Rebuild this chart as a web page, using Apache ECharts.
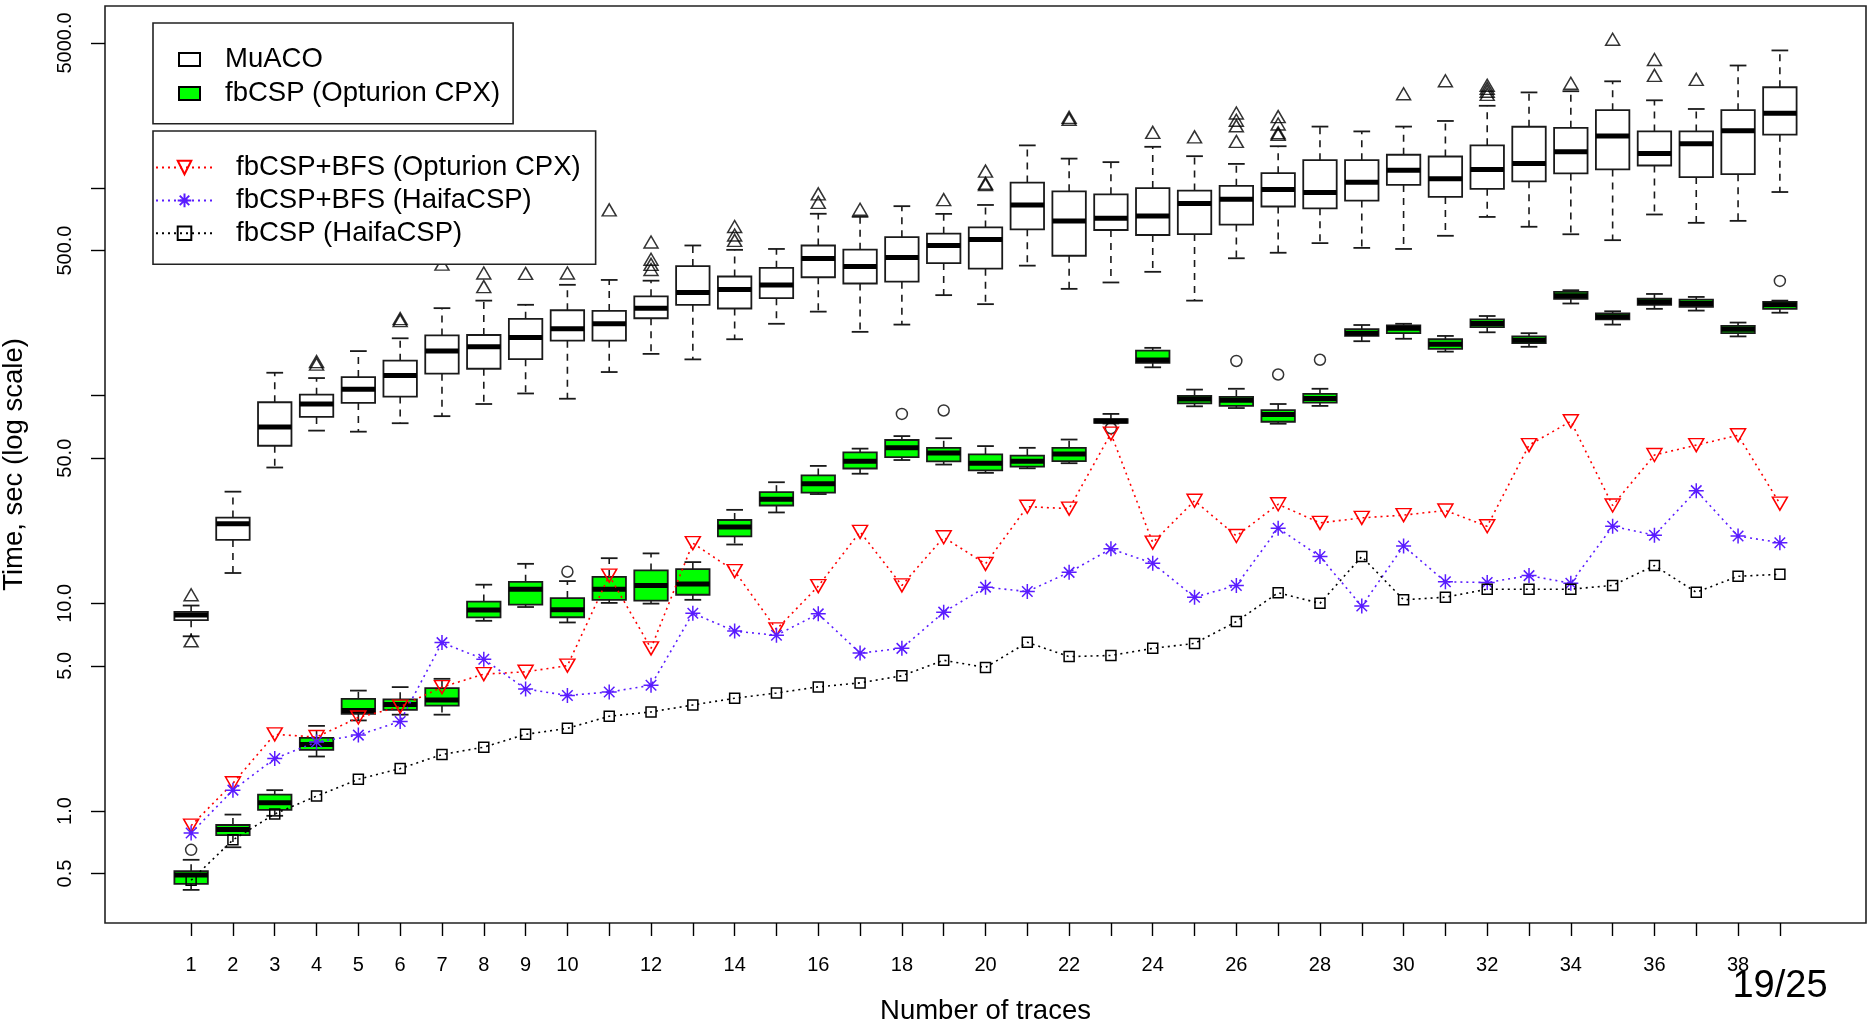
<!DOCTYPE html>
<html><head><meta charset="utf-8">
<script src="https://cdn.jsdelivr.net/npm/echarts@6/dist/echarts.min.js"></script>
<style>html,body{margin:0;padding:0;background:#fff}#chart{width:1872px;height:1027px}</style>
</head><body><div id="chart"></div>
<script>
// ---------- data (seconds) ----------
const traces = [1,2,3,4,5,6,7,8,9,10,11,12,13,14,15,16,17,18,19,20,21,22,23,24,25,26,27,28,29,30,31,32,33,34,35,36,37,38,39];
const xTickLabels = [1,2,3,4,5,6,7,8,9,10,12,14,16,18,20,22,24,26,28,30,32,34,36,38];
const yTicks = [0.5,1,5,10,50,100,500,1000,5000];
const yTickLabels = [0.5,1,5,10,50,500,5000];

const muacoLow  = [6.94,14.0,45.1,67.9,67.1,73.7,79.7,91.2,102.5,96.7, 130,159,149.6,187,222,254,203,220,305,276, 423,327,351,395,287,459,488,543,515,509, 589,726,651,599,561,746,680,695,957];
const muacoQ1   = [8.3,20.2,57.4,79.0,92.3,99.0,127.6,134.8,150,184, 184,236,274,263,295,372,347,354,435,409, 633,472,628,594,600,667,815,799,870,1035, 906,992,1078,1176,1229,1284,1130,1166,1807];
const muacoMed  = [8.8,24.2,70.7,91.2,107.5,125.1,164,172,190.8,210, 222,264,314,325,341,458,419,463,529,565, 829,693,716,733,843,884,984,953,1065,1219, 1109,1229,1312,1497,1783,1466,1633,1889,2291];
const muacoQ3   = [9.1,25.9,93,101.1,123,147.4,195,196,234.6,258, 256,301,421,375,413,529,505,580,603,646, 1063,964,933,1000,972,1025,1179,1362,1362,1447, 1419,1606,1973,1949,2372,1873,1873,2372,3058];
const muacoHigh = [9.76,34.5,129,121.6,164,189,264,287,274,342, 361,358,529,504,509,752,727,818,751,829, 1605,1386,1333,1580,1424,1307,1590,1977,1874,1977, 2104,2490,2888,2926,3266,2646,2403,3892,4600];
const muacoOutliers = [[1,11.0],[1,6.6],[4,142],[4,146],[6,230],[6,235],[7,430],[8,335],[8,390],[9,388],[10,390],[11,785],
  [12,405],[12,429],[12,454],[12,550],[14,560],[14,594],[14,653],[16,853],[16,938],[17,790],[19,880],[20,1039],[20,1055],[20,1207],
  [22,2143],[22,2190],[24,1855],[25,1763],[26,1677],[26,1994],[26,2120],[26,2300],[27,1813],[27,1845],[27,2034],[27,2208],
  [30,2846],[31,3288],[32,2827],[32,2926],[32,3020],[32,3127],[34,3195],[35,5206],[36,3488],[36,4161],[37,3339]];

const cpxLow  = [0.417,0.669,0.948,1.83,2.73,2.91,2.91,8.24,9.6,8.09, 10.05,9.97,10.4,19.2,27.4,33.6,42.1,49.0,46.6,42.5, 44.7,47.3,73.5,137,88.9,87.2,73.3,89.3,183,188, 163,202,172,278,220,262,257,193,251];
const cpxQ1   = [0.446,0.766,1.013,1.97,2.94,3.07,3.22,8.55,9.86,8.57, 10.4,10.3,11.0,21.0,29.6,34.1,44.6,50.6,48.3,43.7, 45.5,48.4,74.0,144,91.9,89.3,74.9,92.6,194,200, 168,214,179,293,233,274,268,200,262];
const cpxMed  = [0.492,0.815,1.095,2.09,3.05,3.26,3.42,9.28,11.7,9.31, 11.7,12.2,12.4,23.3,31.7,37.7,48.3,56.1,52.9,47.3, 48.4,52.4,75.5,148.5,96.5,95.1,81.2,96.9,200,211, 177,223,185,303,240,283,278,209,274];
const cpxQ3   = [0.513,0.856,1.20,2.25,3.47,3.45,3.91,10.2,12.7,10.6, 13.4,14.4,14.6,25.2,34.3,41.3,53.3,61.2,56.1,52.2, 51.4,56.1,77.0,165,99.8,98.6,85.3,102,209,218, 187,233,193,316,249,293,290,217,283];
const cpxHigh = [0.582,0.961,1.26,2.57,3.80,3.95,4.33,12.3,15.5,12.8, 16.5,17.4,15.8,28.2,38.3,45.9,55.6,63.9,62.4,57.2, 56.1,61.5,81.7,170,107,108,91.2,108,219,222, 194,242,200,322,255,309,299,225,287];
const cpxOutliers = [[1,0.65],[10,14.2],[18,81.7],[19,84.9],[23,69.7],[26,147],[27,126.5],[28,149],[39,357]];

const bfsCpx   = [0.85,1.36,2.34,2.27,2.82,3.18,3.95,4.56,4.68,5.01, 13.6,6.07,19.5,14.3,7.49,12.1,22.1,12.2,20.8,15.5, 29.2,28.6,65.7,19.6,31.2,21.1,30.0,24.4,25.8,26.6, 28.0,23.5,57.8,75.3,29.6,51.8,57.8,64.5,30.2];
const bfsHaifa = [0.783,1.26,1.79,2.15,2.32,2.70,6.47,5.38,3.87,3.60, 3.74,4.03,8.96,7.35,7.02,8.90,5.76,6.07,9.07,11.97, 11.4,14.1,18.3,15.6,10.7,12.2,23.0,16.8,9.7,18.9, 12.7,12.6,13.6,12.5,23.5,21.3,34.9,21.1,19.6];
const haifa    = [0.464,0.726,0.968,1.18,1.42,1.60,1.87,2.03,2.34,2.50, 2.86,3.00,3.24,3.49,3.70,3.96,4.14,4.48,5.32,4.91, 6.49,5.54,5.61,6.07,6.41,8.17,11.25,10.0,16.8,10.4, 10.7,11.7,11.7,11.7,12.2,15.2,11.3,13.5,13.8];

const names = ['MuACO','fbCSP (Opturion CPX)','fbCSP+BFS (Opturion CPX)','fbCSP+BFS (HaifaCSP)','fbCSP (HaifaCSP)'];

// ---------- build ----------
const lg = Math.log10;
const FONT = '"Liberation Sans", Arial, Helvetica, sans-serif';
const boxRows = (lo,q1,md,q3,hi) => traces.map((t,i)=>[t, lg(lo[i]), lg(q1[i]), lg(md[i]), lg(q3[i]), lg(hi[i])]);
const pts = (arr) => traces.map((t,i)=>[t, lg(arr[i])]);
const outPts = (arr) => arr.map(p=>[p[0], lg(p[1])]);

const BOXWEX = 0.8;
function renderBox(params, api) {
  const x = api.value(0);
  const pLo = api.coord([x, api.value(1)]);
  const pQ1 = api.coord([x, api.value(2)]);
  const pMd = api.coord([x, api.value(3)]);
  const pQ3 = api.coord([x, api.value(4)]);
  const pHi = api.coord([x, api.value(5)]);
  const w = api.size([BOXWEX, 0])[0];
  const cx = pMd[0], hw = w/2, sw = w/4;
  const fill = api.visual('color');
  const stroke = '#1a1a1a';
  return {type:'group', children:[
    {type:'line', shape:{x1:cx,y1:pQ3[1],x2:cx,y2:pHi[1]}, style:{stroke, lineWidth:1.6, lineDash:[7,6]}},
    {type:'line', shape:{x1:cx,y1:pQ1[1],x2:cx,y2:pLo[1]}, style:{stroke, lineWidth:1.6, lineDash:[7,6]}},
    {type:'line', shape:{x1:cx-sw,y1:pHi[1],x2:cx+sw,y2:pHi[1]}, style:{stroke, lineWidth:1.8}},
    {type:'line', shape:{x1:cx-sw,y1:pLo[1],x2:cx+sw,y2:pLo[1]}, style:{stroke, lineWidth:1.8}},
    {type:'rect', shape:{x:cx-hw,y:pQ3[1],width:w,height:pQ1[1]-pQ3[1]}, style:{fill, stroke, lineWidth:1.8}},
    {type:'line', shape:{x1:cx-hw,y1:pMd[1],x2:cx+hw,y2:pMd[1]}, style:{stroke:'#000', lineWidth:5}}
  ]};
}

const ASTER = 'path://M10,0L10,20M0,10L20,10M3,3L17,17M3,17L17,3';
const lineSeries = (name, arr, color, symbol, size, rotate) => ({
  name, type:'line', data: pts(arr), z:5,
  symbol, symbolSize:size, symbolRotate: rotate || 0,
  lineStyle:{color, width:1.6, type:[2,4]},
  itemStyle:{color:'rgba(255,255,255,0)', borderColor:color, borderWidth:1.5},
  emphasis:{disabled:true}
});

const chart = echarts.init(document.getElementById('chart'), null, {renderer:'canvas'});
chart.setOption({
  animation:false,
  backgroundColor:'#fff',
  textStyle:{fontFamily:FONT},
  grid:{left:105, right:6, top:6, bottom:104, show:true, borderColor:'#222', borderWidth:1.6,
        backgroundColor:'rgba(0,0,0,0)', containLabel:false, outerBoundsMode:'none'},
  xAxis:{
    type:'value', min:-1.06, max:41.06,
    name:'Number of traces', nameLocation:'middle', nameGap:74,
    nameTextStyle:{fontSize:27.5, color:'#000', fontFamily:FONT},
    axisLine:{show:false, onZero:false}, splitLine:{show:false},
    axisTick:{show:true, customValues:traces, length:13, lineStyle:{color:'#000', width:1.4}},
    axisLabel:{customValues:xTickLabels, fontSize:20, color:'#000', margin:32, fontFamily:FONT}
  },
  yAxis:{
    type:'value', min:lg(0.2888), max:lg(7529),
    name:'Time, sec (log scale)', nameLocation:'middle', nameGap:77, nameRotate:90,
    nameTextStyle:{fontSize:27.5, color:'#000', fontFamily:FONT},
    axisLine:{show:false, onZero:false}, splitLine:{show:false},
    axisTick:{show:true, customValues:yTicks.map(lg), length:14, lineStyle:{color:'#000', width:1.4}},
    axisLabel:{customValues:yTickLabels.map(lg), rotate:90, fontSize:20, color:'#000', margin:30, fontFamily:FONT,
      formatter:(v)=>Math.pow(10, v).toFixed(1)}
  },
  legend:[
    {data:[{name:names[0], icon:'rect'},{name:names[1], icon:'rect'}],
     orient:'vertical', left:153, top:23, itemWidth:21, itemHeight:13, itemGap:6,
     padding:[22.4,13,16.4,25], borderColor:'#222', borderWidth:1.6, backgroundColor:'#fff', selectedMode:false,
     textStyle:{fontFamily:FONT, fontSize:27.5, color:'#000', padding:[0,0,0,20], lineHeight:27}},
    {data:[names[2],names[3],names[4]],
     orient:'vertical', left:153, top:131, itemWidth:57, itemHeight:17, itemGap:4.9,
     padding:[22.5,15,17,2], borderColor:'#222', borderWidth:1.6, backgroundColor:'#fff', selectedMode:false,
     textStyle:{fontFamily:FONT, fontSize:27.5, color:'#000', padding:[0,0,0,18], lineHeight:27}}
  ],
  graphic:[{type:'text', x:1780, y:987, z:10,
    style:{text:'19/25', font:'38px "Liberation Sans", Arial, sans-serif', fill:'#000', textAlign:'center', textVerticalAlign:'middle'}}],
  series:[
    {name:names[0], type:'custom', renderItem:renderBox, data:boxRows(muacoLow,muacoQ1,muacoMed,muacoQ3,muacoHigh),
     encode:{x:0, y:[1,2,3,4,5]}, itemStyle:{color:'#ffffff', borderColor:'#000', borderWidth:1.5}, z:2},
    {name:names[1], type:'custom', renderItem:renderBox, data:boxRows(cpxLow,cpxQ1,cpxMed,cpxQ3,cpxHigh),
     encode:{x:0, y:[1,2,3,4,5]}, itemStyle:{color:'#00ff00', borderColor:'#000', borderWidth:1.5}, z:2},
    {name:'MuACO outliers', type:'scatter', data:outPts(muacoOutliers), symbol:'triangle', symbolSize:[14,12], z:3,
     itemStyle:{color:'rgba(255,255,255,0)', borderColor:'#000', borderWidth:1.5}},
    {name:'fbCSP outliers', type:'scatter', data:outPts(cpxOutliers), symbol:'circle', symbolSize:11, z:3,
     itemStyle:{color:'rgba(255,255,255,0)', borderColor:'#000', borderWidth:1.5}},
    lineSeries(names[2], bfsCpx, '#ff0000', 'triangle', [15,13], 180),
    lineSeries(names[3], bfsHaifa, '#5a1cff', ASTER, 15, 0),
    lineSeries(names[4], haifa, '#000000', 'rect', 10, 0)
  ]
});
</script>
</body></html>
